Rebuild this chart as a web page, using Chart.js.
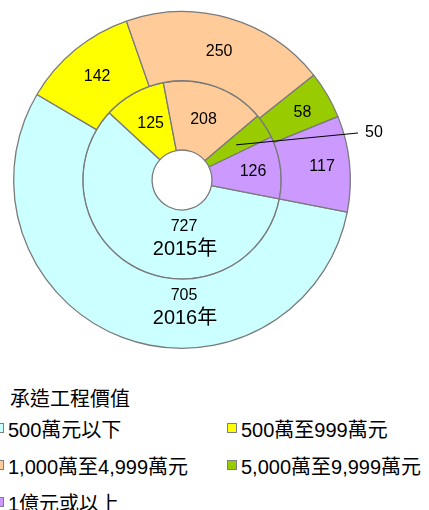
<!DOCTYPE html>
<html>
<head>
<meta charset="utf-8">
<script src="https://cdn.jsdelivr.net/npm/chart.js@4"></script>
<style>
    body { margin: 0; background: #fff; font-family: "Liberation Sans", "Noto Sans CJK TC", sans-serif; }
    #wrap { position: relative; width: 429px; height: 510px; overflow: hidden; }
    #legendTitle { position: absolute; left: 10px; top: 383px; font-size: 20px; color: #000; }
    .item { position: absolute; height: 22px; display: flex; align-items: center; font-size: 20px; color: #000; white-space: nowrap; }
    .box { width: 10px; height: 10px; box-sizing: border-box; border: 1px solid #7f7f7f; margin-right: 4px; }
</style>
</head>
<body>
<div id="wrap">
    <canvas id="myChart" width="429" height="360"></canvas>
    <div id="legendTitle">承造工程價值</div>
    <div id="legend"></div>
</div>
<script>
// data
const categories = ["500萬元以下", "500萬至999萬元", "1,000萬至4,999萬元", "5,000萬至9,999萬元", "1億元或以上"];
const years = ["2016年", "2015年"];
const values2016 = [705, 142, 250, 58, 117];
const values2015 = [727, 125, 208, 50, 126];
const colours = ["#CCFFFF", "#FFFF00", "#FFCC99", "#99CC00", "#CC99FF"];

// labels drawn on the rings
const sliceLabels = {
    id: "sliceLabels",
    afterDatasetsDraw(chart) {
        const ctx = chart.ctx;
        ctx.save();
        ctx.fillStyle = "#000";
        ctx.textAlign = "center";
        ctx.textBaseline = "middle";
        chart.data.datasets.forEach((ds, i) => {
            const meta = chart.getDatasetMeta(i);
            meta.data.forEach((arc, j) => {
                const p = arc.getProps(["x", "y", "innerRadius", "outerRadius"], true);
                const value = ds.data[j];
                ctx.font = "16px 'Liberation Sans', 'Noto Sans CJK TC'";
                if (j === 0) {
                    // biggest slice: value and year straight below the centre
                    const midR = (p.innerRadius + p.outerRadius) / 2;
                    ctx.fillText(value, p.x + 2, p.y + midR - 18);
                    ctx.font = "20px 'Liberation Sans', 'Noto Sans CJK TC'";
                    ctx.fillText(ds.label, p.x + 3, p.y + midR + 5);
                } else if (value === 50 && i === 1) {
                    // small slice: leader line out to the right
                    const c = arc.getCenterPoint(true);
                    const ex = p.x + 176, ey = p.y - 47;
                    ctx.strokeStyle = "#000";
                    ctx.lineWidth = 1;
                    ctx.beginPath();
                    ctx.moveTo(c.x, c.y);
                    ctx.lineTo(ex, ey);
                    ctx.stroke();
                    ctx.textAlign = "left";
                    ctx.fillText(value, ex + 7, ey);
                    ctx.textAlign = "center";
                } else {
                    const c = arc.getCenterPoint(true);
                    let dx = 0;
                    if (j === 4) dx = 7;
                    if (j === 3) dx = 5;
                    ctx.fillText(value, c.x + dx, c.y);
                }
            });
        });
        ctx.restore();
    }
};

const ctx = document.getElementById("myChart");
const chart = new Chart(ctx, {
    type: "doughnut",
    data: {
        labels: categories,
        datasets: [
            {
                label: years[0],
                data: values2016,
                backgroundColor: colours,
                borderColor: "#7a7a7a",
                borderWidth: 1.3,
            },
            {
                label: years[1],
                data: values2015,
                backgroundColor: colours,
                borderColor: "#7a7a7a",
                borderWidth: 1.3,
            },
        ],
    },
    options: {
        responsive: false,
        animation: false,
        rotation: 101,
        cutout: "17.8%",
        layout: { padding: { left: 13, right: 78, top: 11, bottom: 11 } },
        plugins: {
            legend: { display: false },
            tooltip: { enabled: false },
        },
    },
    plugins: [sliceLabels],
});

// legend in two columns
const legend = document.getElementById("legend");
categories.forEach((name, j) => {
    const col = j % 2;
    const row = Math.floor(j / 2);
    const item = document.createElement("div");
    item.className = "item";
    item.style.left = (col ? 227 : -6) + "px";
    item.style.top = (417 + row * 37) + "px";
    const box = document.createElement("span");
    box.className = "box";
    box.style.background = colours[j];
    item.appendChild(box);
    item.appendChild(document.createTextNode(name));
    legend.appendChild(item);
});
</script>
</body>
</html>
